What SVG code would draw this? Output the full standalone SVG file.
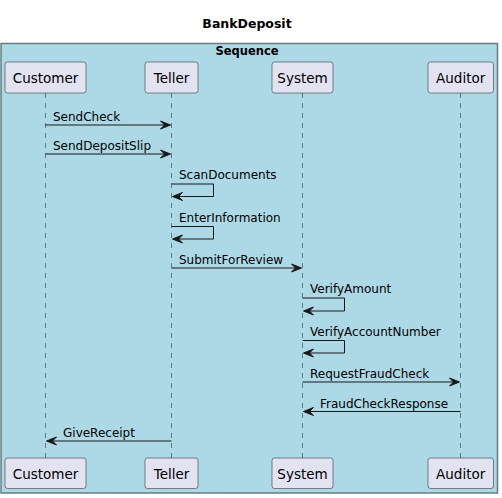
<svg xmlns="http://www.w3.org/2000/svg" width="502" height="498" viewBox="0 0 502 498">
<style>
.title{font-family:"DejaVu Sans",sans-serif;font-weight:bold;font-size:12.5px;fill:#000;text-anchor:middle}
.grp{font-family:"DejaVu Sans",sans-serif;font-weight:bold;font-size:11.5px;fill:#000;text-anchor:middle}
.pbox{fill:#E2E2F0;stroke:#181818;stroke-width:0.5}
.ptxt{font-family:"DejaVu Sans",sans-serif;font-size:13.5px;fill:#000;text-anchor:middle}
.life{stroke:#181818;stroke-width:0.5;stroke-dasharray:5,5;fill:none}
.msg{stroke:#181818;stroke-width:1;fill:none}
.head{fill:#181818;stroke:#181818;stroke-width:1}
.mtxt{font-family:"DejaVu Sans",sans-serif;font-size:12px;fill:#000}
</style>
<rect width="502" height="498" fill="#FFFFFF"/>
<text class="title" x="247" y="28">BankDeposit</text>
<g id="frame">
<rect x="1" y="43.5" width="496.5" height="449.5" fill="#ADD8E6" stroke="#6A7B80" stroke-width="1.5"/>
<text class="grp" x="247" y="54.5">Sequence</text>
</g>
<g id="lifelines">
<line class="life" x1="45.5" y1="93" x2="45.5" y2="458"/>
<line class="life" x1="171.5" y1="93" x2="171.5" y2="458"/>
<line class="life" x1="302.5" y1="93" x2="302.5" y2="458"/>
<line class="life" x1="460.5" y1="93" x2="460.5" y2="458"/>
</g>
<g id="Customer">
<rect class="pbox" x="5" y="62" width="81" height="31" rx="2.5"/>
<text class="ptxt" x="45.5" y="82.5">Customer</text>
<rect class="pbox" x="5" y="458" width="81" height="30.5" rx="2.5"/>
<text class="ptxt" x="45.5" y="478.5">Customer</text>
</g>
<g id="Teller">
<rect class="pbox" x="145" y="62" width="53" height="31" rx="2.5"/>
<text class="ptxt" x="171.5" y="82.5">Teller</text>
<rect class="pbox" x="145" y="458" width="53" height="30.5" rx="2.5"/>
<text class="ptxt" x="171.5" y="478.5">Teller</text>
</g>
<g id="System">
<rect class="pbox" x="272" y="62" width="61" height="31" rx="2.5"/>
<text class="ptxt" x="302.5" y="82.5">System</text>
<rect class="pbox" x="272" y="458" width="61" height="30.5" rx="2.5"/>
<text class="ptxt" x="302.5" y="478.5">System</text>
</g>
<g id="Auditor">
<rect class="pbox" x="428" y="62" width="65.5" height="31" rx="2.5"/>
<text class="ptxt" x="460.7" y="82.5">Auditor</text>
<rect class="pbox" x="428" y="458" width="65.5" height="30.5" rx="2.5"/>
<text class="ptxt" x="460.7" y="478.5">Auditor</text>
</g>
<g id="connectors">
<!-- SendCheck -->
<line class="msg" x1="45.5" y1="125" x2="168" y2="125"/>
<polygon class="head" points="170.5,125 160.5,121 164.5,125 160.5,129"/>
<text class="mtxt" x="53" y="121">SendCheck</text>
<!-- SendDepositSlip -->
<line class="msg" x1="45.5" y1="154" x2="168" y2="154"/>
<polygon class="head" points="170.5,154 160.5,150 164.5,154 160.5,158"/>
<text class="mtxt" x="53" y="150">SendDepositSlip</text>
<!-- ScanDocuments -->
<polyline class="msg" points="171.5,184 213.5,184 213.5,196.5 174,196.5"/>
<polygon class="head" points="172.5,196.5 182.5,192.5 178.5,196.5 182.5,200.5"/>
<text class="mtxt" x="179" y="179">ScanDocuments</text>
<!-- EnterInformation -->
<polyline class="msg" points="171.5,226.5 213.5,226.5 213.5,239 174,239"/>
<polygon class="head" points="172.5,239 182.5,235 178.5,239 182.5,243"/>
<text class="mtxt" x="179" y="221.5">EnterInformation</text>
<!-- SubmitForReview -->
<line class="msg" x1="171.5" y1="268" x2="299" y2="268"/>
<polygon class="head" points="301.5,268 291.5,264 295.5,268 291.5,272"/>
<text class="mtxt" x="179" y="264">SubmitForReview</text>
<!-- VerifyAmount -->
<polyline class="msg" points="302.5,298 344.5,298 344.5,311 305,311"/>
<polygon class="head" points="303.5,311 313.5,307 309.5,311 313.5,315"/>
<text class="mtxt" x="310" y="293">VerifyAmount</text>
<!-- VerifyAccountNumber -->
<polyline class="msg" points="302.5,340.5 344.5,340.5 344.5,353 305,353"/>
<polygon class="head" points="303.5,353 313.5,349 309.5,353 313.5,357"/>
<text class="mtxt" x="310" y="335.5">VerifyAccountNumber</text>
<!-- RequestFraudCheck -->
<line class="msg" x1="302.5" y1="382" x2="457" y2="382"/>
<polygon class="head" points="459.5,382 449.5,378 453.5,382 449.5,386"/>
<text class="mtxt" x="310" y="378">RequestFraudCheck</text>
<!-- FraudCheckResponse -->
<line class="msg" x1="460.5" y1="411.5" x2="306" y2="411.5"/>
<polygon class="head" points="303.5,411.5 313.5,407.5 309.5,411.5 313.5,415.5"/>
<text class="mtxt" x="320" y="407.5">FraudCheckResponse</text>
<!-- GiveReceipt -->
<line class="msg" x1="171.5" y1="441" x2="49" y2="441"/>
<polygon class="head" points="46.5,441 56.5,437 52.5,441 56.5,445"/>
<text class="mtxt" x="63" y="437">GiveReceipt</text>
</g>
</svg>
